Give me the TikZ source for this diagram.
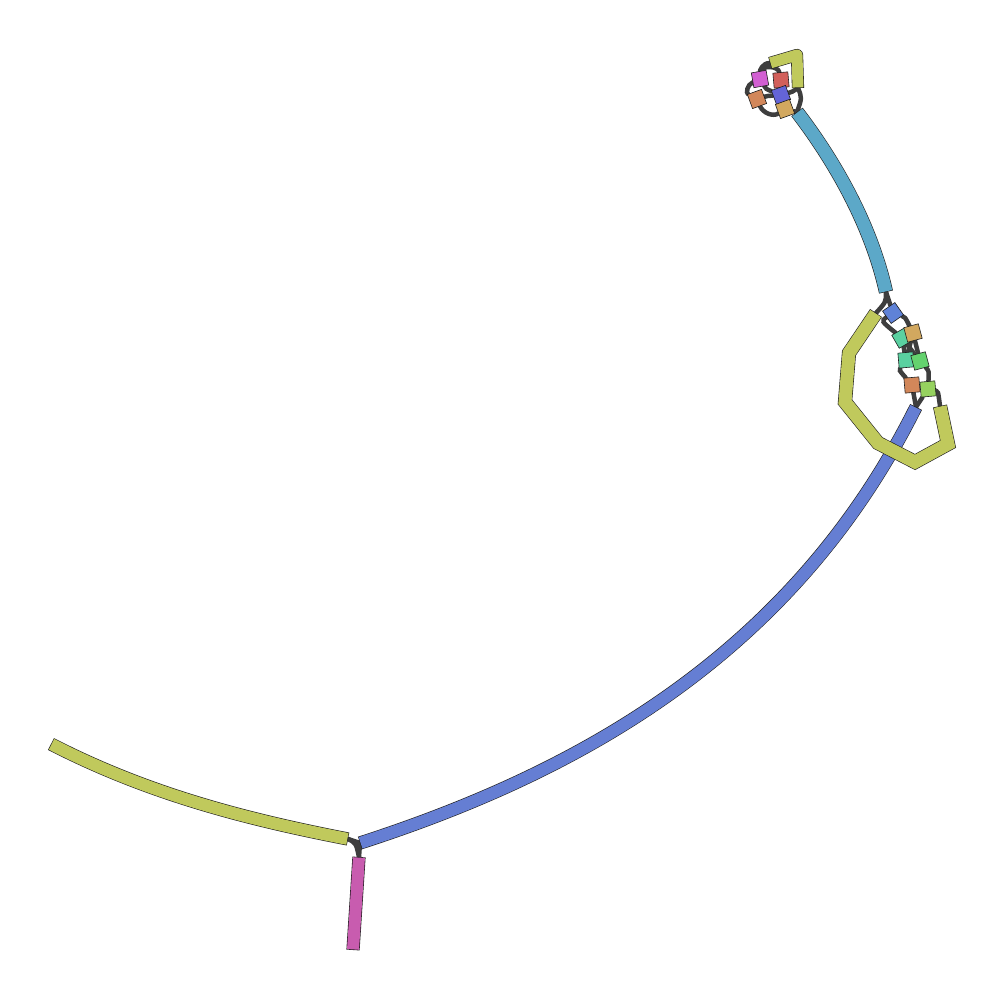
\documentclass[tikz,border=0pt]{standalone}
\usepackage{tikz}
\usetikzlibrary{backgrounds}
\definecolor{edgeline}{RGB}{30,30,30}
\definecolor{linkgray}{RGB}{62,62,62}
\definecolor{ctgyellow}{RGB}{192,201,92}
\definecolor{ctgblue}{RGB}{101,126,211}
\definecolor{ctgcyan}{RGB}{92,168,200}
\definecolor{ctgpink}{RGB}{200,92,175}
\definecolor{ctgmag}{RGB}{210,95,210}
\definecolor{ctgred}{RGB}{210,95,90}
\definecolor{ctgorange}{RGB}{210,135,90}
\definecolor{ctgindigo}{RGB}{100,100,215}
\definecolor{ctgtan}{RGB}{210,168,95}
\definecolor{ctgsky}{RGB}{95,130,215}
\definecolor{ctgteal}{RGB}{90,208,160}
\definecolor{ctggreen}{RGB}{100,210,110}
\definecolor{ctglime}{RGB}{150,210,95}
% outlined contig: [join] colour, width, path
\newcommand{\contig}[4][line join=miter]{%
  \draw[#1,line width=#3pt+1.2pt,draw=edgeline] #4;
  \draw[#1,line width=#3pt,draw=#2,shorten <=0.6pt,shorten >=0.6pt] #4;}
\tikzset{
  short/.style={draw=edgeline,line width=0.6pt,minimum size=15pt,inner sep=0pt,rectangle},
  lnk/.style={line width=4.5pt,draw=linkgray,line cap=round}
}

\begin{document}
\begin{tikzpicture}[x=1pt,y=-1pt]
  \useasboundingbox (0,0) rectangle (1005,1000);
  % segment ends
  \coordinate (ylA) at (51,744);   \coordinate (ylB) at (348,839);
  \coordinate (pkA) at (359,857);  \coordinate (pkB) at (353,950);
  \coordinate (bluA) at (360,843); \coordinate (bluB) at (916,407);
  \coordinate (cyA) at (797,112);  \coordinate (cyB) at (886,292);
  \coordinate (ysA) at (770,63);   \coordinate (ysB) at (798,88);
  \coordinate (lpA) at (876,313);  \coordinate (lpB) at (940,406);

  \contig{ctgyellow}{12}{(ylA) .. controls (150,795) and (250,820) .. (ylB)}
  \contig{ctgpink}{12}{(pkA) -- (pkB)}
  \contig{ctgblue}{12}{(bluA) .. controls (570,775) and (790,660) .. (bluB)}
  \contig{ctgcyan}{13}{(cyA) .. controls (830,155) and (870,220) .. (cyB)}
  \contig[line join=round]{ctgyellow}{11}{(ysA) -- (797,55) -- (ysB)}
  \contig{ctgyellow}{13}{(lpA) -- (849,353) -- (845,402) -- (878,443) -- (915,462) -- (948,444) -- (lpB)}

  % short contigs, top
  \node[short,fill=ctgmag,rotate=10] (mag) at (760,79) {};
  \node[short,fill=ctgred,rotate=5] (red) at (781,80) {};
  \node[short,fill=ctgorange,rotate=20] (orgA) at (757,99) {};
  \node[short,fill=ctgindigo,rotate=20] (ind) at (781,95) {};
  \node[short,fill=ctgtan,rotate=20] (tanA) at (785,109) {};
  % short contigs, middle
  \node[short,fill=ctgsky,rotate=35] (sky) at (893,313) {};
  \node[short,fill=ctgteal,rotate=30] (tealA) at (902,338) {};
  \node[short,fill=ctgtan,rotate=15] (tanB) at (913,333) {};
  \node[short,fill=ctgteal,rotate=5] (tealB) at (906,360) {};
  \node[short,fill=ctggreen,rotate=15] (grn) at (920,361) {};
  \node[short,fill=ctgorange,rotate=5] (orgB) at (912,385) {};
  \node[short,fill=ctglime,rotate=5] (lime) at (928,389) {};

  \begin{pgfonlayer}{background}
    \draw[lnk] (ylB) -- (bluA);
    \draw[lnk] (ylB) .. controls +(8,4) .. (pkA);
    \draw[lnk] (bluA) -- (pkA);
    \draw[lnk] (ysA) .. controls +(-8,0) and +(0,-8) .. (mag);
    \draw[lnk] (mag) .. controls +(3,-14) and +(-3,-14) .. (red);
    \draw[lnk] (mag) .. controls +(-13,6) and +(-11,-6) .. (orgA);
    \draw[lnk] (mag) .. controls +(6,10) .. (ind);
    \draw[lnk] (red) .. controls +(2,8) .. (ind);
    \draw[lnk] (orgA) .. controls +(10,-3) .. (ind);
    \draw[lnk] (orgA) .. controls +(6,14) and +(-12,8) .. (tanA);
    \draw[lnk] (ind) -- (tanA);
    \draw[lnk] (ysB) .. controls +(-6,4) .. (ind);
    \draw[lnk] (ysB) .. controls +(4,10) .. (cyA);
    \draw[lnk] (tanA) -- (cyA);
    \draw[lnk] (cyB) .. controls +(0,10) .. (lpA);
    \draw[lnk] (cyB) -- (sky);
    \draw[lnk] (sky) .. controls +(-12,8) .. (tealA);
    \draw[lnk] (sky) .. controls +(12,4) .. (tanB);
    \foreach \a in {tealA,tanB} \foreach \b in {tealB,grn} \draw[lnk] (\a) -- (\b);
    \draw[lnk] (tealB) .. controls +(-7,10) .. (orgB);
    \draw[lnk] (grn) .. controls +(9,10) .. (lime);
    \draw[lnk] (orgB) -- (bluB);
    \draw[lnk] (lime) -- (bluB);
    \draw[lnk] (lime) .. controls +(10,2) .. (lpB);
  \end{pgfonlayer}
\end{tikzpicture}
\end{document}
